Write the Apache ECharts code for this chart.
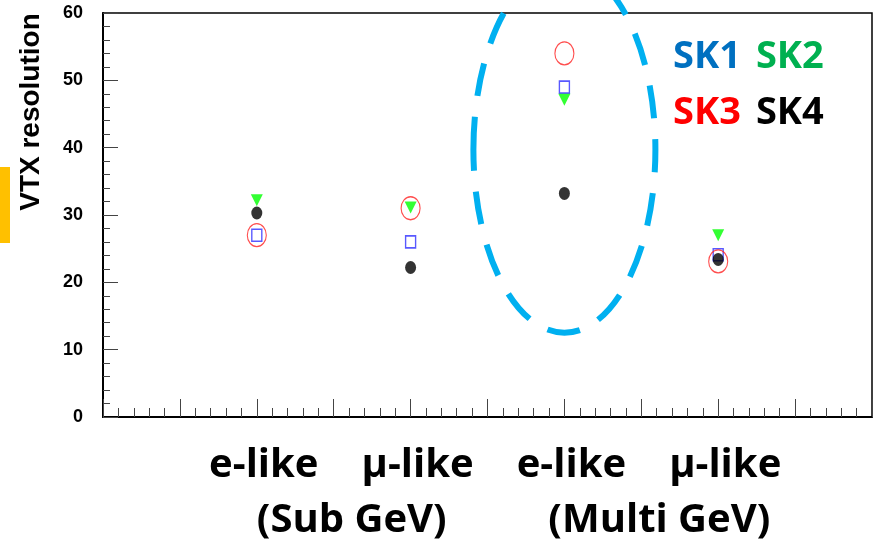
<!DOCTYPE html>
<html>
<head>
<meta charset="utf-8">
<script src="https://cdn.jsdelivr.net/npm/echarts@6/dist/echarts.min.js"></script>
<style>
  html, body { margin: 0; padding: 0; background: #fff; }
  #chart { width: 873px; height: 545px; }
</style>
</head>
<body>
<div id="chart"></div>
<script>
// ---- data ----
const CATEGORIES = ['e-like', 'μ-like', 'e-like', 'μ-like'];
const CATEGORY_X = [2, 4, 6, 8];
const GROUPS = ['(Sub GeV)', '(Multi GeV)'];
const GROUP_MEMBERS = [[0, 1], [2, 3]];
const SERIES_NAMES = ['SK1', 'SK2', 'SK3', 'SK4'];
const SK1 = [27.0, 26.0, 49.0, 24.1];
const SK2 = [32.2, 31.1, 47.1, 27.0];
const SK3 = [27.0, 31.0, 54.0, 23.1];
const SK4 = [30.3, 22.2, 33.2, 23.4];
const Y_LABEL = 'VTX resolution';
const HIGHLIGHT = { x: 6, y: 39.7 }; // centre of the dashed "Multi GeV e-like" highlight

const chart = echarts.init(document.getElementById('chart'), null, { renderer: 'canvas' });

const pts = (vals) => vals.map((v, i) => [CATEGORY_X[i], v]);
const catByX = {};
CATEGORY_X.forEach((x, i) => { catByX[x] = CATEGORIES[i]; });

const LABEL_FONT = '"Open Sans", "Noto Sans", sans-serif';

const option = {
  animation: false,
  backgroundColor: '#fff',
  grid: {
    left: 103, top: 13, width: 769, height: 404,
    outerBoundsMode: 'none', containLabel: false,
    show: true, borderColor: '#000', borderWidth: 1.5, backgroundColor: 'transparent'
  },
  legend: {
    data: [
      { name: 'SK1', textStyle: { color: '#0070C0' } },
      { name: 'SK2', textStyle: { color: '#00B050' } },
      { name: 'SK3', textStyle: { color: '#FF0000' } },
      { name: 'SK4', textStyle: { color: '#000000' } }
    ],
    icon: 'none',
    itemWidth: 0, itemHeight: 0,
    itemGap: 10,
    orient: 'horizontal',
    left: 668, top: 34, width: 200,
    padding: 0,
    selectedMode: false,
    textStyle: { fontFamily: LABEL_FONT, fontWeight: 'bold', fontSize: 38, lineHeight: 46 }
  },
  xAxis: {
    type: 'value', min: 0, max: 10, interval: 1,
    axisLine: { show: true, lineStyle: { color: '#000', width: 2 } },
    axisTick: { show: true, inside: true, length: 18, lineStyle: { color: '#444', width: 1 } },
    minorTick: { show: true, splitNumber: 5, length: 9, lineStyle: { color: '#444', width: 1 } },
    splitLine: { show: false },
    axisLabel: {
      show: true, margin: 27, padding: [0, 0, 0, 14],
      fontFamily: LABEL_FONT, fontWeight: 'bold', fontSize: 40, lineHeight: 44, color: '#000',
      formatter: (v) => catByX[v] || ''
    }
  },
  yAxis: {
    type: 'value', min: 0, max: 60, interval: 10,
    axisLine: { show: true, lineStyle: { color: '#000', width: 2 } },
    axisTick: { show: true, inside: true, length: 15, lineStyle: { color: '#444', width: 1 } },
    minorTick: { show: true, splitNumber: 5, length: 7, lineStyle: { color: '#444', width: 1 } },
    splitLine: { show: false },
    axisLabel: {
      show: true, margin: 20,
      fontFamily: '"Liberation Sans", Arial, sans-serif', fontWeight: 'bold', fontSize: 18, color: '#000'
    }
  },
  series: [
    {
      name: 'SK1', type: 'scatter', data: pts(SK1),
      symbol: 'rect', symbolSize: [10, 12],
      itemStyle: { color: 'rgba(0,0,0,0)', borderColor: '#3030FF', borderWidth: 1.5 },
      emphasis: { disabled: true }, z: 2
    },
    {
      name: 'SK2', type: 'scatter', data: pts(SK2),
      symbol: 'triangle', symbolRotate: 180, symbolSize: [12, 12],
      itemStyle: { color: '#00FF00' },
      emphasis: { disabled: true }, z: 3
    },
    {
      name: 'SK3', type: 'scatter', data: pts(SK3),
      symbol: 'circle', symbolSize: [19, 23],
      itemStyle: { color: 'rgba(0,0,0,0)', borderColor: '#FF2020', borderWidth: 1.2 },
      emphasis: { disabled: true }, z: 4
    },
    {
      name: 'SK4', type: 'scatter', data: pts(SK4),
      symbol: 'circle', symbolSize: [11, 13],
      itemStyle: { color: '#000' },
      emphasis: { disabled: true }, z: 5
    }
  ]
};

chart.setOption(option);

// annotations positioned through the chart's own scales
const groupGraphics = GROUPS.map((g, gi) => {
  const xs = GROUP_MEMBERS[gi].map(i => CATEGORY_X[i]);
  const mid = xs.reduce((a, b) => a + b, 0) / xs.length;
  const p = chart.convertToPixel({ gridIndex: 0 }, [mid, 0]);
  return {
    type: 'text', x: p[0] + 18, y: 521, z: 10,
    style: {
      text: g, fontFamily: LABEL_FONT, fontWeight: 'bold', fontSize: 40,
      fill: '#000', align: 'center', verticalAlign: 'middle'
    }
  };
});
const c = chart.convertToPixel({ gridIndex: 0 }, [HIGHLIGHT.x, HIGHLIGHT.y]);

chart.setOption({
  graphic: [
    { type: 'rect', shape: { x: 0, y: 167, width: 10, height: 76 }, style: { fill: '#FFC000' }, z: 1 },
    {
      type: 'text', x: 31, y: 112, rotation: Math.PI / 2, z: 10,
      style: {
        text: Y_LABEL, fontFamily: '"Liberation Sans", Arial, sans-serif', fontWeight: 'bold', fontSize: 28,
        fill: '#000', align: 'center', verticalAlign: 'middle'
      }
    },
    {
      type: 'ellipse', z: 20, silent: true,
      shape: { cx: c[0], cy: c[1], rx: 91, ry: 183 },
      style: { fill: 'none', stroke: '#00B0F0', lineWidth: 6, lineDash: [33, 21] }
    }
  ].concat(groupGraphics)
});
</script>
</body>
</html>
